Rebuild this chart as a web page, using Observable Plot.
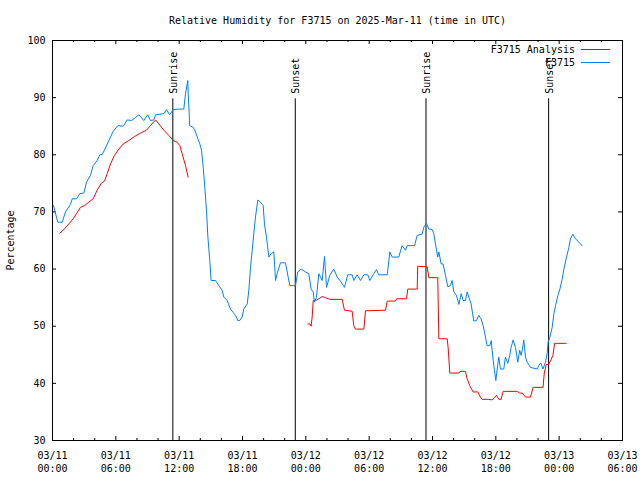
<!DOCTYPE html>
<html><head><meta charset="utf-8">
<script src="https://cdn.jsdelivr.net/npm/d3@7"></script>
<script src="https://cdn.jsdelivr.net/npm/@observablehq/plot@0.6"></script>
<style>
body{margin:0;background:#fff;}
#wrap{position:relative;width:640px;height:480px;font-family:"DejaVu Sans Mono",monospace;}
.lt{position:absolute;font-size:10px;line-height:12px;color:#000;text-align:right;width:200px;white-space:pre;}
.ll{position:absolute;height:1px;width:29px;}
</style></head>
<body><div id="wrap"></div>
<script>
const titleText = "Relative Humidity for F3715 on 2025-Mar-11 (time in UTC)";
const yLabel = "Percentage";
const startTime = "2025-03-11T00:00Z";
const xDomain = ["2025-03-11T00:00Z", "2025-03-13T06:00Z"];
const xTicks = ["2025-03-11T00:00Z","2025-03-11T06:00Z","2025-03-11T12:00Z","2025-03-11T18:00Z",
  "2025-03-12T00:00Z","2025-03-12T06:00Z","2025-03-12T12:00Z","2025-03-12T18:00Z",
  "2025-03-13T00:00Z","2025-03-13T06:00Z"];
const yTicks = [30, 40, 50, 60, 70, 80, 90, 100];
const seriesNames = ["F3715 Analysis", "F3715"];
const seriesColors = ["#ff0000", "#0080ff"];

// Observations (hours after start)
const obsHours = [0.1,0.5,0.92,1.23,1.7,1.87,2.27,2.59,2.97,3.22,3.6,3.85,4.23,4.48,4.7,5.02,5.34,5.75,6.19,6.7,7.07,7.5,8.18,8.65,9.03,9.28,9.6,9.76,10.55,10.8,11.1,11.43,11.97,12.44,12.6,12.82,12.85,13.0,13.33,13.55,13.77,13.96,14.12,14.28,14.43,14.59,14.72,14.9,15.03,15.44,15.76,16.07,16.23,16.55,16.86,17.12,17.34,17.56,17.74,17.97,18.12,18.45,18.6,18.76,18.92,19.07,19.23,19.45,19.7,19.96,20.08,20.27,20.5,20.72,20.97,21.13,21.28,21.6,22.07,22.48,23.02,23.24,23.56,23.97,24.28,24.5,24.7,24.82,25.0,25.23,25.55,25.77,25.96,26.27,26.65,26.97,27.28,27.66,27.97,28.39,28.54,28.86,29.18,29.5,29.87,30.06,30.44,30.69,30.91,31.71,31.96,32.18,32.8,33.12,33.44,33.6,34.3,34.55,35.02,35.17,35.43,35.65,35.97,36.12,36.28,36.5,36.6,36.82,37.0,37.23,37.45,37.7,37.86,38.02,38.27,38.5,38.72,38.9,39.12,39.28,39.44,39.66,39.91,40.17,40.38,40.6,40.8,41.02,41.17,41.43,41.56,41.75,41.87,42.0,42.13,42.28,42.44,42.75,42.91,43.13,43.32,43.45,43.64,43.86,44.08,44.26,44.4,44.5,44.65,44.81,44.97,45.28,45.91,46.15,46.28,46.47,46.7,46.86,46.95,47.12,47.34,47.5,47.66,47.88,48.07,48.29,48.45,48.7,48.92,49.07,49.29,49.55,50.18];
const obsValues = [71.1,68.2,68.2,70,71.3,72.3,72.3,73.2,73.3,75.2,76.4,78.1,79,80,80,81.2,82.5,84.1,85.1,85,86.1,86,87,86,87,86,86.1,87,87.2,87.9,87,87.9,88,88,90.7,93,91,85.1,84.8,84,82.8,81.9,80.8,77.8,74.3,70.3,65.6,61.5,58,58,57.1,56.3,55.1,54.5,53,52.4,51.9,51,51,51.6,53,53.9,56.3,60.3,63.3,66.2,69.1,72.1,71.7,71.1,67.9,65.6,62.1,62.7,63,58,59.2,61.1,61.1,57.1,57.1,59.5,60,59.5,59.2,56.5,56,54.2,55,59.2,58,62.2,56.8,58.9,60,58.6,57.9,56.8,59,59,58,59,58,59,59,58,59.2,59.9,59,59,63,62.1,62.1,64.1,63.3,64.1,64.1,65.9,66.1,67.3,68,67,66.9,66.2,64.4,62.1,63,60.9,60.9,58.9,56.9,57.1,58,56,55.4,53.8,55.7,54.5,54.5,56,55.1,53.9,50.9,51,51.9,51.3,50.1,48.1,46.6,46.6,47.5,44,42.3,40.5,42.5,44.6,42.5,42.5,44.6,43.5,44.9,46.3,47.6,46.3,43.7,45.8,44.9,45.8,47.6,44.6,43.7,42.8,42.5,43.4,43.5,42.5,43.7,45.2,47.2,48.1,49.8,52.2,53.6,55.4,56.5,58.3,60,62.1,63.8,65.3,66.1,65.3,64.1];

// Analysis (hours after start); null = gap
const anaHours = [0.7,1.01,1.55,1.96,2.27,2.65,3.03,3.44,3.85,4.23,4.61,4.93,5.18,5.5,5.87,6.29,6.7,7.23,7.77,8.34,8.9,9.28,9.76,10.07,10.55,11.02,11.43,11.81,12.06,12.28,12.6,12.85,18,24.19,24.38,24.5,24.6,24.7,24.92,25.23,25.55,25.86,26.27,27.44,27.66,28.07,28.39,28.54,28.7,29.5,29.65,31.55,31.71,32.5,32.6,33.54,33.66,34.55,34.6,35.5,35.65,36.5,36.6,37.39,37.48,37.64,38.5,38.6,39.12,39.28,39.53,39.85,40.29,40.54,40.7,41.33,41.65,41.87,42.06,42.28,42.5,42.69,44.02,44.26,44.5,44.81,45.28,45.54,46.47,46.59,46.78,47.0,47.22,47.41,47.57,48.65];
const anaValues = [66.3,66.8,67.9,68.8,69.7,70.8,71.1,71.7,72.3,73.8,75,75.4,76.7,78.4,79.9,81,81.9,82.5,83.2,83.8,84.3,85.1,86.1,85.4,84.3,83.4,82.5,82.2,81.6,80.2,78.1,76.1,null,50.4,50.4,50,51.6,54.5,54.5,54.8,55.2,55,54.7,54.7,52.8,52.7,52.6,50.1,49.5,49.5,52.7,52.8,54.4,54.4,54.8,54.8,56.5,56.5,60.5,60.4,58.5,58.5,47.8,47.8,46.3,41.8,41.8,42.1,42.1,40.8,39.6,38.5,38.5,37.6,37.2,37.2,37.1,37.5,37.9,37.2,37.2,38.6,38.6,38.3,38.3,37.6,37.6,39.3,39.3,41.8,43.3,43.3,44.1,44.9,47.0,47.0];

const eventNames = ["Sunrise", "Sunset", "Sunrise", "Sunset"];
const eventTimes = ["2025-03-11T11:24Z", "2025-03-11T23:00Z", "2025-03-12T11:23Z", "2025-03-12T23:00Z"];
const eventLineTop = 89.8;

const t0 = new Date(startTime).getTime();
const toDate = h => new Date(t0 + h * 3600000);
const obs = obsHours.map((h, i) => ({t: toDate(h), v: obsValues[i]}));
const ana = anaHours.map((h, i) => ({t: toDate(h), v: anaValues[i]}));
const events = eventNames.map((n, i) => ({name: n, t: new Date(eventTimes[i])}));
const majors = xTicks.map(s => new Date(s));
const dom = xDomain.map(s => new Date(s));
const minors = d3.utcHour.every(2).range(dom[0], d3.utcHour.offset(dom[1], 1))
  .filter(d => d.getUTCHours() % 6 !== 0);

const W = 640, H = 480, mL = 52, mR = 18, mT = 40, mB = 40;
const fw = W - mL - mR, fh = H - mT - mB;
const fmt = d3.utcFormat("%m/%d\n%H:%M");

const chart = Plot.plot({
  width: W, height: H,
  marginLeft: mL, marginRight: mR, marginTop: mT, marginBottom: mB,
  style: {fontFamily: "'DejaVu Sans Mono', monospace", fontSize: "10px", color: "#000", background: "#fff"},
  x: {type: "utc", domain: dom},
  y: {domain: [30, 100]},
  marks: [
    Plot.frame({stroke: "#000"}),
    Plot.axisX({ticks: majors, tickSize: 0, tickPadding: 9, tickFormat: fmt, lineHeight: 1.3, label: null}),
    Plot.axisY({ticks: yTicks, tickSize: 0, tickPadding: 7, label: null}),
    Plot.tickX(majors, {x: d => d, insetTop: fh - 4, stroke: "#000"}),
    Plot.tickX(majors, {x: d => d, insetBottom: fh - 4, stroke: "#000"}),
    Plot.tickX(minors, {x: d => d, insetTop: fh - 2, stroke: "#000"}),
    Plot.tickX(minors, {x: d => d, insetBottom: fh - 2, stroke: "#000"}),
    Plot.tickY(yTicks.slice(1, -1), {y: d => d, insetRight: fw - 4, stroke: "#000"}),
    Plot.tickY(yTicks.slice(1, -1), {y: d => d, insetLeft: fw - 4, stroke: "#000"}),
    Plot.ruleX(events, {x: "t", y1: 30, y2: eventLineTop, stroke: "#000", strokeWidth: 1}),
    Plot.text(events, {x: "t", y: eventLineTop, text: "name", rotate: -90, textAnchor: "start", dy: -5, dx: 1, fill: "#000"}),
    Plot.line(ana, {x: "t", y: "v", stroke: seriesColors[0], strokeWidth: 1}),
    Plot.line(obs, {x: "t", y: "v", stroke: seriesColors[1], strokeWidth: 1}),
    Plot.text([titleText], {frameAnchor: "top", lineAnchor: "middle", dy: -20, fill: "#000"}),
    Plot.text([yLabel], {frameAnchor: "left", rotate: -90, textAnchor: "middle", dx: -42, fill: "#000"})
  ]
});
const wrap = document.getElementById("wrap");
wrap.appendChild(chart);

// legend
seriesNames.forEach((name, i) => {
  const t = document.createElement("div");
  t.className = "lt";
  t.textContent = name;
  t.style.left = (575 - 200) + "px";
  t.style.top = (44 + i * 13) + "px";
  wrap.appendChild(t);
  const l = document.createElement("div");
  l.className = "ll";
  l.style.left = "581px";
  l.style.top = (49 + i * 13) + "px";
  l.style.background = seriesColors[i];
  wrap.appendChild(l);
});
</script>
</body></html>
